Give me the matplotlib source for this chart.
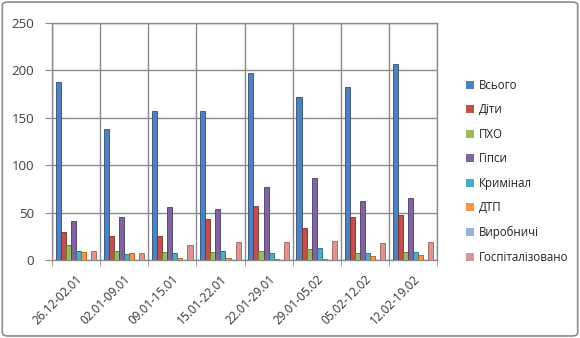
import matplotlib
matplotlib.use("Agg")
import matplotlib.pyplot as plt
import numpy as np
from matplotlib.patches import FancyBboxPatch

plt.rcParams['font.family'] = ['Open Sans', 'DejaVu Sans']

categories = ["26.12-02.01", "02.01-09.01", "09.01-15.01", "15.01-22.01",
              "22.01-29.01", "29.01-05.02", "05.02-12.02", "12.02-19.02"]
series_names = ["Всього", "Діти", "ПХО", "Гіпси", "Кримінал", "ДТП",
                "Виробничі", "Госпіталізовано"]
vsogo = [188, 138, 157, 157, 197, 172, 182, 207]
dity = [30, 25, 25, 43, 57, 34, 45, 47]
pkho = [16, 9, 8, 8, 9, 12, 7, 8]
hipsy = [41, 45, 56, 54, 77, 86, 62, 65]
kryminal = [9, 6, 7, 10, 7, 13, 7, 8]
dtp = [8, 7, 2, 2, 1, 1, 4, 5]
vyrobnychi = [0, 0, 0, 0, 0, 0, 0, 0]
hospital = [9, 7, 16, 19, 19, 20, 18, 19]
series = [vsogo, dity, pkho, hipsy, kryminal, dtp, vyrobnychi, hospital]

colors = ["#4F81BD", "#C0504D", "#9BBB59", "#8064A2", "#4BACC6", "#F79646",
          "#95B3D7", "#D99694"]
edges = ["#2C4D75", "#772C2A", "#5F7530", "#4D3B62", "#276A7C", "#B65708",
         "#5A7FAF", "#A65F5D"]

fig = plt.figure(figsize=(5.8, 3.38), dpi=100)
fig.patches.append(FancyBboxPatch((0.004, 0.006), 0.992, 0.988,
                                  boxstyle="round,pad=0,rounding_size=0.01",
                                  transform=fig.transFigure, fill=False,
                                  edgecolor="#8C8C8C", linewidth=1.2))
ax = fig.add_axes([52/580, 1-260/338, (437-52)/580, (260-23)/338])

x = np.arange(len(categories))
n = len(series)
group_w = 0.84
bw = group_w / n
for i, (vals, c, ec, name) in enumerate(zip(series, colors, edges, series_names)):
    offs = -group_w/2 + bw*(i+0.5)
    ax.bar(x + offs, vals, width=bw, color=c, edgecolor=ec, linewidth=0.6,
           label=name, zorder=3)

ax.set_xlim(-0.5, len(categories)-0.5)
ax.set_ylim(0, 250)
ax.set_yticks([0, 50, 100, 150, 200, 250])
ax.yaxis.grid(True, color="#8C8C8C", linewidth=1.0, zorder=0)
ax.set_xticks(x)
ax.set_xticklabels(categories, rotation=45, ha="right", rotation_mode="anchor",
                   fontsize=8.5, color="#333333")
ax.tick_params(axis="x", which="major", length=0, pad=9)
ax.set_xticks(np.arange(-0.5, len(categories)), minor=True)
ax.tick_params(axis="x", which="minor", length=4, color="#8C8C8C")
ax.xaxis.grid(True, which="minor", color="#8C8C8C", linewidth=1.0, zorder=0)
ax.tick_params(axis="y", length=5, color="#8C8C8C", labelsize=9.5,
               labelcolor="#404040", pad=8)
for s in ax.spines.values():
    s.set_color("#8C8C8C")
    s.set_linewidth(1.0)

handles, labels = ax.get_legend_handles_labels()
leg = fig.legend(handles, labels, loc="upper left",
                 bbox_to_anchor=(461/580, 1-74/338), frameon=False,
                 fontsize=8.3, handlelength=0.7, handleheight=0.7,
                 handletextpad=0.45, labelspacing=1.0, borderaxespad=0)
for h in leg.legend_handles:
    h.set_linewidth(0)
for t in leg.get_texts():
    t.set_color("#222222")

fig.savefig("out.png", dpi=100)
